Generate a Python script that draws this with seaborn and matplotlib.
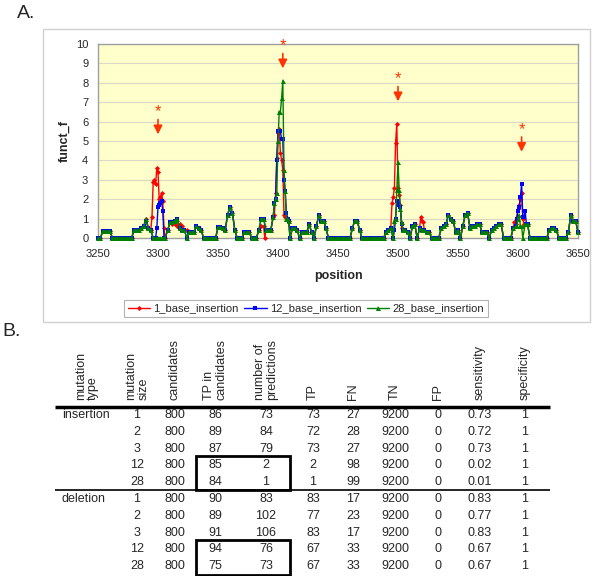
import matplotlib
matplotlib.use("Agg")
import matplotlib.pyplot as plt
from matplotlib.patches import Rectangle
import pandas as pd
import seaborn as sns

# ---- panel A data ----
# shared funct_f level, one value every 2 bp from 3250 to 3650
base_start = 3250
base = [
    0, 0, 0.35, 0.35, 0.35, 0.35, 0, 0, 0, 0, 0, 0, 0, 0, 0, 0.4, 0.4, 0.4, 0.5, 0.6, 1.0, 0.5, 0.4, 0, 0,        # 3250-3298
    0, 0, 0, 0, 0.4, 0.8, 0.8, 0.9, 1.0, 0.5, 0.4, 0.4, 0, 0.3, 0.3, 0.3, 0.6, 0.5, 0.4, 0, 0, 0, 0, 0, 0,         # 3300-3348
    0.55, 0.55, 0.5, 0.4, 1.2, 1.6, 1.3, 0.4, 0, 0, 0, 0.3, 0.3, 0.3, 0, 0, 0, 0.4, 1.0, 1.0, 0.4, 0.4, 0.4, 1.1, 2.0,  # 3350-3398
    5.0, 6.5, 8.1, 2.4, 1.0, 0, 0.5, 0.5, 0.4, 0, 0.3, 0.3, 0.3, 0.7, 0.3, 0, 0.6, 1.2, 0.9, 0.9, 0.5, 0, 0, 0, 0,  # 3400-3448
    0, 0, 0, 0, 0, 0, 0.5, 0.9, 0.9, 0.4, 0, 0, 0, 0, 0, 0, 0, 0, 0, 0, 0.3, 0.4, 0.5, 0, 1.0,                    # 3450-3498
    3.9, 1.5, 0.4, 0.4, 0.3, 0, 0.6, 0.7, 0, 0.5, 0.4, 0.4, 0.3, 0.3, 0, 0, 0, 0, 0.5, 0.6, 0.7, 1.2, 1.0, 0.9, 0.3,  # 3500-3548
    0.4, 0, 0.6, 1.2, 1.3, 0.5, 0.6, 0.6, 0.7, 0.7, 0.3, 0.3, 0.3, 0, 0.4, 0.5, 0.6, 0.7, 0.7, 0, 0, 0, 0, 0.5, 0.6,  # 3550-3598
    1.0, 0.6, 0, 0.7, 0.7, 0, 0, 0, 0, 0, 0, 0, 0, 0.4, 0.5, 0.5, 0.4, 0, 0, 0, 0, 0.3, 1.2, 0.9, 0.9, 0.3,       # 3600-3650
]

# values where a series leaves the shared level (position: funct_f)
peaks_1 = {3294: 0.4, 3295: 1.1, 3296: 2.9, 3297: 3.0, 3298: 2.8, 3299: 3.6, 3300: 3.4, 3301: 2.0,
           3302: 2.1, 3303: 2.3, 3304: 1.9, 3305: 0.5, 3306: 0,
           3312: 0.7, 3314: 0.7, 3316: 0.6, 3318: 0.7, 3320: 0.6, 3322: 0.4, 3324: 0.4,
           3386: 0.6, 3388: 0.6, 3389: 0,
           3397: 1.2, 3398: 2.3, 3399: 4.1, 3400: 5.4, 3401: 5.6, 3402: 4.4, 3403: 4.0, 3404: 3.5,
           3405: 1.2, 3406: 1.1, 3407: 1.1, 3409: 0.9,
           3495: 1.8, 3496: 2.1, 3497: 2.6, 3498: 4.9, 3499: 5.9, 3500: 2.6, 3501: 2.2, 3502: 1.7, 3503: 0.5,
           3519: 1.1, 3520: 0.9, 3521: 0.8,
           3597: 0.8, 3598: 0.7, 3599: 1.1, 3600: 1.5, 3601: 1.7, 3602: 2.0, 3603: 2.3, 3604: 1.0, 3605: 0.7}
peaks_12 = {3290: 0.9, 3298: 0, 3299: 0.5, 3300: 1.6, 3301: 1.7, 3302: 1.8, 3303: 1.9, 3304: 1.4, 3305: 0,
            3397: 1.8, 3398: 2.0, 3399: 4.0, 3400: 5.5, 3401: 5.5, 3402: 5.5, 3403: 5.1, 3404: 5.1,
            3405: 3.0, 3406: 2.4, 3407: 1.3, 3409: 0.9,
            3497: 0.4, 3498: 1.0, 3499: 1.9, 3500: 1.8, 3501: 1.7, 3502: 1.6, 3503: 0.7,
            3599: 1.0, 3600: 1.4, 3601: 1.6, 3602: 2.1, 3603: 2.8, 3604: 1.1, 3605: 1.1, 3606: 1.4, 3607: 0.7}
peaks_28 = {3397: 1.8, 3398: 2.0, 3399: 2.3, 3400: 5.0, 3401: 6.5, 3402: 6.5, 3403: 7.2, 3404: 8.1,
            3405: 3.5, 3406: 2.4, 3407: 1.0, 3409: 0.9,
            3497: 0.9, 3498: 1.0, 3499: 2.5, 3500: 3.9, 3501: 2.5, 3502: 1.5, 3503: 0.8,
            3599: 0.6, 3600: 1.0, 3601: 1.2, 3602: 0.6, 3603: 0.6, 3604: 0}

series_names = ["1_base_insertion", "12_base_insertion", "28_base_insertion"]
series_colors = ["#FF0000", "#0000FF", "#008000"]
series_markers = ["D", "s", "^"]
marker_sizes = [2.6, 3.2, 3.6]

# red star + arrow annotations
arrow_x = [3300, 3404, 3500, 3603]
star_y = [6.5, 9.9, 8.2, 5.6]
tip_y = [5.2, 8.6, 6.9, 4.3]

# ---- panel B data ----
headers = ["mutation\ntype", "mutation\nsize", "candidates", "TP in\ncandidates", "number of\npredictions",
           "TP", "FN", "TN", "FP", "sensitivity", "specificity"]
mutation_type = ["insertion", "", "", "", "", "deletion", "", "", "", ""]
mutation_size = [1, 2, 3, 12, 28, 1, 2, 3, 12, 28]
candidates = [800] * 10
tp_in_candidates = [86, 89, 87, 85, 84, 90, 89, 91, 94, 75]
n_predictions = [73, 84, 79, 2, 1, 83, 102, 106, 76, 73]
tp = [73, 72, 73, 2, 1, 83, 77, 83, 67, 67]
fn = [27, 28, 27, 98, 99, 17, 23, 17, 33, 33]
tn = [9200] * 10
fp = [0] * 10
sensitivity = ["0.73", "0.72", "0.73", "0.02", "0.01", "0.83", "0.77", "0.83", "0.67", "0.67"]
specificity = [1] * 10


def build_series(peaks):
    vals = {base_start + 2 * i: v for i, v in enumerate(base)}
    vals.update(peaks)
    pos = sorted(vals)
    return pos, [vals[p] for p in pos]


frames = []
for name, peaks in zip(series_names, [peaks_1, peaks_12, peaks_28]):
    pos, val = build_series(peaks)
    frames.append(pd.DataFrame({"position": pos, "funct_f": val, "series": name}))
df = pd.concat(frames, ignore_index=True)

sns.set_style("white")
plt.rcParams["font.family"] = ["Liberation Sans", "DejaVu Sans"]

W, H = 600, 576
fig = plt.figure(figsize=(6, 5.76), dpi=100)

# outer chart frame (pixels -> figure coords)
fig.patches.append(Rectangle((43 / W, 1 - 322 / H), (590 - 43) / W, (322 - 29) / H,
                             transform=fig.transFigure, fill=False, edgecolor="#D0D0D0", lw=1))
fig.text(17 / W, 1 - 14 / H, "A.", fontsize=14, va="center", ha="left")

ax = fig.add_axes([98 / W, 1 - 238 / H, 480 / W, 194 / H])
ax.set_facecolor("#FFFFCC")
sns.lineplot(data=df, x="position", y="funct_f", hue="series", style="series",
             hue_order=series_names, style_order=series_names,
             palette=dict(zip(series_names, series_colors)),
             markers=dict(zip(series_names, series_markers)), dashes=False,
             markersize=3, markeredgewidth=0, linewidth=1, estimator=None, ax=ax)
for i, (line, ms) in enumerate(zip(ax.lines[:3], marker_sizes)):
    line.set_markersize(ms)
    line.set_clip_on(False)
    line.set_zorder(3 + i)

for x, s, t in zip(arrow_x, star_y, tip_y):
    ax.annotate("", xy=(x, t), xytext=(x, s - 0.25),
                arrowprops=dict(arrowstyle="-|>", color="#FF3300", lw=1.2, mutation_scale=13))
    ax.text(x, s, "*", color="#FF3300", fontsize=12, ha="center", va="center")

ax.set_xlim(3250, 3650)
ax.set_ylim(0, 10)
ax.set_xticks(range(3250, 3651, 50))
ax.set_yticks(range(0, 11))
ax.yaxis.grid(True, color="#D9D9C8", lw=0.8)
ax.set_axisbelow(True)
for sp in ax.spines.values():
    sp.set_color("#A0A0A0")
    sp.set_linewidth(1)
ax.tick_params(axis="x", length=0, pad=8, labelsize=8)
ax.tick_params(axis="y", length=0, pad=7, labelsize=8)
ax.set_xlabel("position", fontweight="bold", fontsize=9, labelpad=8)
ax.set_ylabel("funct_f", fontweight="bold", fontsize=9, labelpad=4)

sns.move_legend(ax, "upper center", bbox_to_anchor=((306 - 98) / 480, (238 - 294) / 194),
                ncol=3, title=None, frameon=True, fontsize=8, columnspacing=0.5,
                handlelength=2.0, handletextpad=0.3, borderpad=0.35, fancybox=False)
leg = ax.get_legend()
leg.get_frame().set_edgecolor("#A0A0A0")
leg.get_frame().set_linewidth(0.8)
for h, ms in zip(leg.legend_handles, marker_sizes):
    h.set_markersize(ms)

# ---- panel B: table drawn in pixel coordinates ----
tab = fig.add_axes([0, 0, 1, 1])
tab.set_xlim(0, W)
tab.set_ylim(H, 0)
tab.axis("off")
tab.text(2, 331, "B.", fontsize=14, va="center", ha="left")

header_x = [87, 137, 175, 215, 266, 313, 353, 395, 438, 480, 525]
col_x = [62, 137, 175, 215, 266, 313, 353, 395, 438, 480, 525]
for x, h in zip(header_x, headers):
    tab.text(x, 400, h, rotation=90, ha="center", va="bottom", multialignment="left",
             fontsize=9, linespacing=1.05)

columns = [mutation_type, mutation_size, candidates, tp_in_candidates, n_predictions,
           tp, fn, tn, fp, sensitivity, specificity]
row_y = [415 + 16.75 * i for i in range(5)] + [499 + 16.75 * i for i in range(5)]
for ci, (x, col) in enumerate(zip(col_x, columns)):
    for y, v in zip(row_y, col):
        tab.text(x, y, str(v), ha="left" if ci == 0 else "center", va="center", fontsize=9)

tab.plot([55, 550], [407, 407], color="black", lw=2.5, solid_capstyle="butt")
tab.plot([55, 550], [490, 490], color="black", lw=1.2, solid_capstyle="butt")
tab.add_patch(Rectangle((196, 456), 94, 34, fill=False, lw=2, edgecolor="black"))
tab.add_patch(Rectangle((196, 540), 94, 35, fill=False, lw=2, edgecolor="black"))

fig.savefig("out.png", dpi=100)
